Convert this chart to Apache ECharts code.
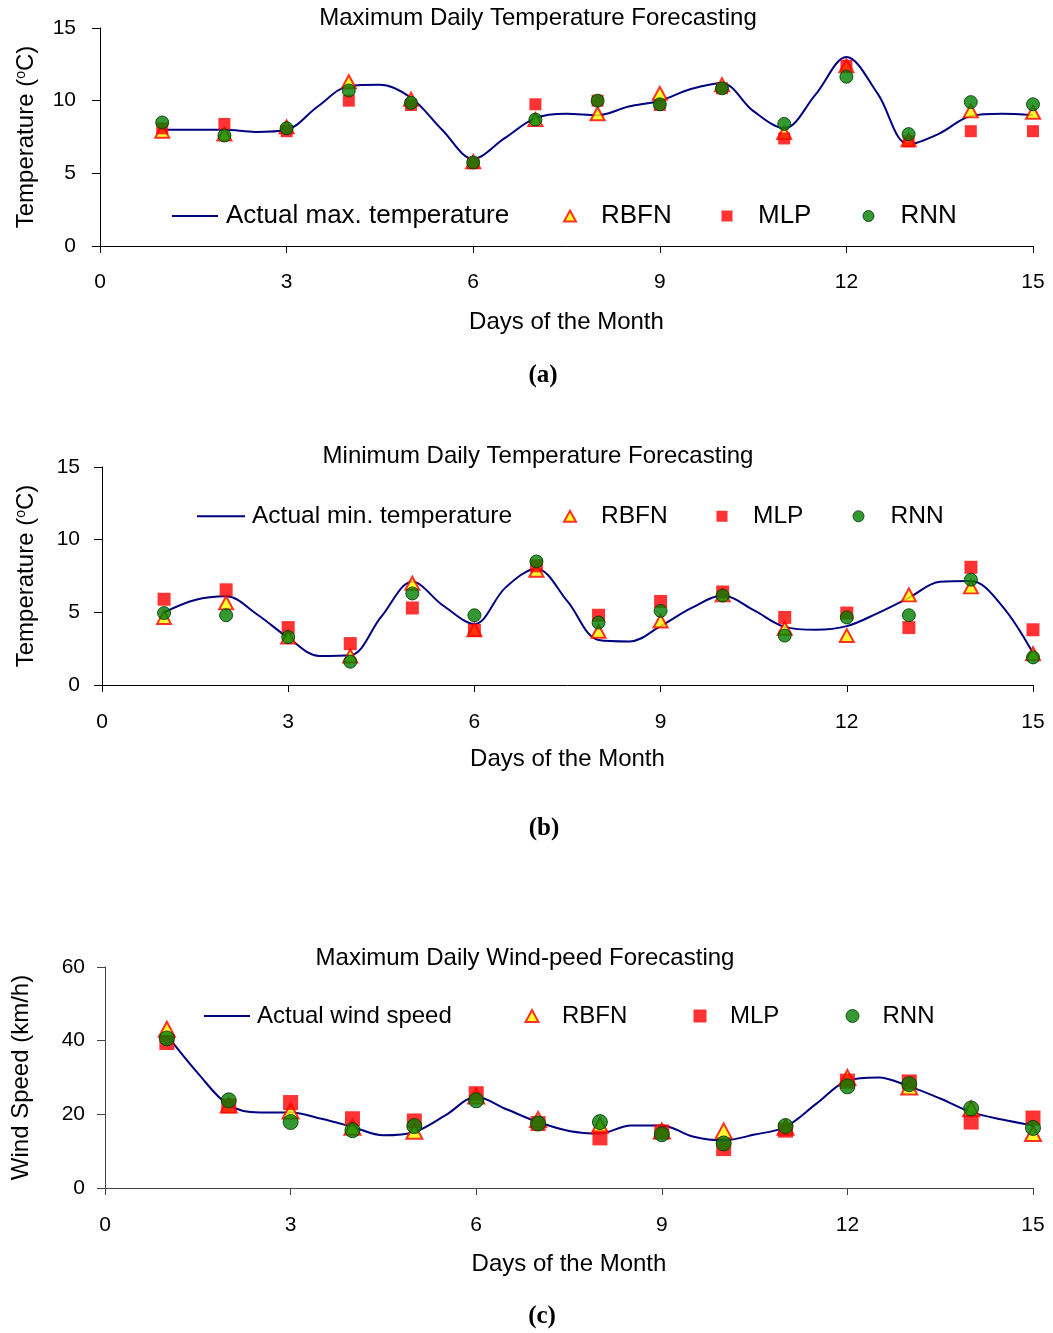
<!DOCTYPE html>
<html>
<head>
<meta charset="utf-8">
<script src="https://cdn.jsdelivr.net/npm/echarts@6/dist/echarts.min.js"></script>
<style>
  html, body { margin: 0; padding: 0; background: #ffffff; }
  #chart { width: 1053px; height: 1333px; }
</style>
</head>
<body>
<div id="chart"></div>
<script>
// Forecast days (markers) and half-day sampling of the observed series (line)
const days = [1, 2, 3, 4, 5, 6, 7, 8, 9, 10, 11, 12, 13, 14, 15];
const halfDays = [1, 1.5, 2, 2.5, 3, 3.5, 4, 4.5, 5, 5.5, 6, 6.5, 7, 7.5, 8, 8.5,
                  9, 9.5, 10, 10.5, 11, 11.5, 12, 12.5, 13, 13.5, 14, 14.5, 15];
const xTicks = [0, 3, 6, 9, 12, 15];

// (a) maximum daily temperature, °C
const actualMax = [8.0, 8.0, 8.0, 7.85, 8.0, 9.6, 11.0, 11.1, 10.2, 8.0, 6.0, 7.4, 8.8, 9.1, 9.0,
                   9.6, 10.0, 10.8, 11.2, 9.3, 8.1, 10.4, 13.0, 10.5, 7.0, 7.75, 8.95, 9.1, 9.0];
const rbfnMax = [7.9, 7.7, 8.2, 11.3, 10.1, 5.8, 8.7, 9.1, 10.5, 11.1, 7.8, 12.4, 7.3, 9.3, 9.2];
const mlpMax  = [8.1, 8.4, 7.9, 10.0, 9.7, 5.7, 9.75, 10.0, 9.7, 10.85, 7.4, 12.4, 7.2, 7.9, 7.9];
const rnnMax  = [8.5, 7.6, 8.1, 10.7, 9.85, 5.75, 8.7, 10.0, 9.75, 10.85, 8.4, 11.65, 7.7, 9.9, 9.75];

// (b) minimum daily temperature, °C
const actualMin = [5.0, 5.85, 6.1, 4.85, 3.25, 2.0, 2.05, 4.7, 7.1, 5.45, 4.2, 6.7, 8.0, 5.75, 3.1,
                   3.0, 4.05, 5.3, 6.15, 5.15, 4.0, 3.8, 4.05, 4.95, 6.0, 7.1, 7.15, 5.45, 2.2];
const rbfnMin = [4.65, 5.65, 3.3, 2.0, 7.0, 3.8, 7.9, 3.7, 4.4, 6.2, 3.9, 3.4, 6.2, 6.75, 2.15];
const mlpMin  = [5.9, 6.55, 3.95, 2.85, 5.3, 3.75, 8.2, 4.8, 5.75, 6.4, 4.65, 4.95, 3.95, 8.1, 3.8];
const rnnMin  = [4.95, 4.8, 3.3, 1.6, 6.3, 4.8, 8.5, 4.3, 5.1, 6.15, 3.4, 4.65, 4.8, 7.25, 1.9];

// (c) maximum daily wind speed, km/h
const actualWind = [41.5, 31.2, 22.5, 20.5, 20.5, 18.8, 16.6, 14.3, 15.2, 19.7, 24.7, 21.3, 17.9, 15.5, 14.8,
                    17.0, 17.0, 14.0, 12.95, 14.5, 16.6, 22.9, 29.1, 30.0, 27.6, 24.3, 20.6, 18.6, 17.0];
const rbfnWind = [43.1, 22.5, 20.9, 16.5, 15.4, 25.0, 18.6, 17.0, 15.5, 15.5, 16.5, 30.0, 27.4, 21.5, 14.8];
const mlpWind  = [39.5, 22.3, 23.2, 18.8, 18.2, 25.6, 17.5, 13.6, 15.2, 10.7, 15.7, 29.0, 28.8, 17.9, 19.0];
const rnnWind  = [40.6, 23.8, 17.9, 15.7, 16.8, 23.8, 17.5, 17.9, 14.6, 12.1, 16.8, 27.6, 28.2, 21.6, 16.3];

const SANS = '"Liberation Sans", Arial, Helvetica, sans-serif';
const SERIF = '"Liberation Serif", "Times New Roman", serif';

const LINE_COLOR = '#000080';
const TRI_STYLE = { color: '#ffff00', borderColor: '#ff0000', borderWidth: 2 };
const SQ_STYLE = { color: '#ff0000', borderColor: '#ff0000', borderWidth: 0 };
const CIRC_STYLE = { color: '#008000', borderColor: '#003300', borderWidth: 1 };

function pairs(xs, ys) { return xs.map((x, i) => [x, ys[i]]); }

const panels = [
  {
    title: 'Maximum Daily Temperature Forecasting', titleX: 538, titleTop: 6,
    tag: '(a)', tagX: 543, tagTop: 363,
    grid: { left: 100, top: 28, width: 933, height: 218 },
    yMax: 15, yInterval: 5, yName: 'Temperature ({sup|o}C)', yNameGap: 62, yLabelMargin: 24,
    xNameGap: 64, xLabelMargin: 26, axisColor: '#000',
    actualName: 'Actual max. temperature', actual: actualMax, rbfn: rbfnMax, mlp: mlpMax, rnn: rnnMax,
    legendY: 216, legendFont: 26,
    lineKey: [172, 46, 226], triKey: [569, 600], sqKey: [727, 758], circKey: [868, 900],
    sizes: { tri: [14, 13], sq: 12, circ: 13, keyTri: [12, 11], keySq: 11, keyCirc: 11 }
  },
  {
    title: 'Minimum Daily Temperature Forecasting', titleX: 538, titleTop: 444,
    tag: '(b)', tagX: 544, tagTop: 816,
    grid: { left: 102, top: 467, width: 931, height: 218 },
    yMax: 15, yInterval: 5, yName: 'Temperature ({sup|o}C)', yNameGap: 64, yLabelMargin: 22,
    xNameGap: 62, xLabelMargin: 27, axisColor: '#000',
    actualName: 'Actual min. temperature', actual: actualMin, rbfn: rbfnMin, mlp: mlpMin, rnn: rnnMin,
    legendY: 516, legendFont: 24.5,
    lineKey: [197, 48, 252], triKey: [569, 600], sqKey: [722, 753], circKey: [858, 890],
    sizes: { tri: [14, 13], sq: 13, circ: 13, keyTri: [12, 11], keySq: 11, keyCirc: 11 }
  },
  {
    title: 'Maximum Daily Wind-peed Forecasting', titleX: 525, titleTop: 946,
    tag: '(c)', tagX: 542, tagTop: 1304,
    grid: { left: 105, top: 967, width: 928, height: 221 },
    yMax: 60, yInterval: 20, yName: 'Wind Speed (km/h)', yNameGap: 72, yLabelMargin: 20,
    xNameGap: 64, xLabelMargin: 27, axisColor: '#444',
    actualName: 'Actual wind speed', actual: actualWind, rbfn: rbfnWind, mlp: mlpWind, rnn: rnnWind,
    legendY: 1016, legendFont: 24,
    lineKey: [204, 46, 257], triKey: [531, 561], sqKey: [700, 730], circKey: [852, 882],
    sizes: { tri: [16, 15], sq: 15, circ: 15, keyTri: [13, 12], keySq: 13, keyCirc: 13 }
  }
];

const option = {
  animation: false,
  backgroundColor: '#ffffff',
  title: [], grid: [], xAxis: [], yAxis: [], legend: [], series: []
};

function keyLegend(p, name, icon, centerX, textX, w, h, itemStyle) {
  return {
    left: centerX - w / 2, top: p.legendY - p.legendFont / 2,
    padding: 0, itemGap: 0, itemWidth: w, itemHeight: h,
    selectedMode: false,
    textStyle: { fontSize: p.legendFont, fontFamily: SANS, color: '#000',
                 padding: [0, 0, 0, textX - (centerX + w / 2 + 5)] },
    data: [{ name: name, icon: icon, itemStyle: itemStyle }]
  };
}

panels.forEach((p, i) => {
  option.title.push({
    text: p.title, left: p.titleX, top: p.titleTop, textAlign: 'center', padding: 0,
    textStyle: { fontSize: 24, fontWeight: 'normal', fontFamily: SANS, color: '#000' }
  });
  option.title.push({
    text: p.tag, left: p.tagX, top: p.tagTop, textAlign: 'center', padding: 0,
    textStyle: { fontSize: 25, fontWeight: 'bold', fontFamily: SERIF, color: '#000' }
  });

  option.grid.push(Object.assign({ containLabel: false }, p.grid));

  option.xAxis.push({
    gridIndex: i, type: 'value', min: 0, max: 15, interval: 3,
    axisLine: { show: true, onZero: false, lineStyle: { color: p.axisColor, width: 1 } },
    axisTick: { show: true, length: 7, lineStyle: { color: p.axisColor } },
    axisLabel: { fontSize: 21, fontFamily: SANS, color: '#000', margin: p.xLabelMargin,
                 formatter: v => (xTicks.indexOf(v) >= 0 ? String(v) : '') },
    splitLine: { show: false },
    name: 'Days of the Month', nameLocation: 'middle', nameGap: p.xNameGap,
    nameTextStyle: { fontSize: 24, fontFamily: SANS, color: '#000' }
  });

  option.yAxis.push({
    gridIndex: i, type: 'value', min: 0, max: p.yMax, interval: p.yInterval,
    axisLine: { show: true, onZero: false, lineStyle: { color: p.axisColor, width: 1 } },
    axisTick: { show: true, length: 8, lineStyle: { color: p.axisColor } },
    axisLabel: { fontSize: 21, fontFamily: SANS, color: '#000', margin: p.yLabelMargin },
    splitLine: { show: false },
    name: p.yName, nameLocation: 'middle', nameGap: p.yNameGap,
    nameTextStyle: {
      fontSize: 24, fontFamily: SANS, color: '#000',
      rich: { sup: { fontSize: 14, fontFamily: SANS, color: '#000', verticalAlign: 'top', lineHeight: 14 } }
    }
  });

  // observed series
  option.series.push({
    name: p.actualName, type: 'line', xAxisIndex: i, yAxisIndex: i,
    data: pairs(halfDays, p.actual), smooth: 0.35, symbol: 'none',
    lineStyle: { color: LINE_COLOR, width: 2 }, itemStyle: { color: LINE_COLOR },
    emphasis: { disabled: true }, z: 1
  });
  // model forecasts
  option.series.push({
    name: 'RBFN', type: 'scatter', xAxisIndex: i, yAxisIndex: i,
    data: pairs(days, p.rbfn), symbol: 'triangle', symbolSize: p.sizes.tri,
    itemStyle: TRI_STYLE, emphasis: { disabled: true }, z: 2
  });
  option.series.push({
    name: 'MLP', type: 'scatter', xAxisIndex: i, yAxisIndex: i,
    data: pairs(days, p.mlp), symbol: 'rect', symbolSize: p.sizes.sq,
    itemStyle: SQ_STYLE, emphasis: { disabled: true }, z: 3
  });
  option.series.push({
    name: 'RNN', type: 'scatter', xAxisIndex: i, yAxisIndex: i,
    data: pairs(days, p.rnn), symbol: 'circle', symbolSize: p.sizes.circ,
    itemStyle: CIRC_STYLE, emphasis: { disabled: true }, z: 4
  });

  // legend keys, one per entry so each sits where the panel places it
  option.legend.push({
    left: p.lineKey[0], top: p.legendY - p.legendFont / 2,
    padding: 0, itemGap: 0, itemWidth: p.lineKey[1], itemHeight: 2,
    selectedMode: false,
    textStyle: { fontSize: p.legendFont, fontFamily: SANS, color: '#000',
                 padding: [0, 0, 0, p.lineKey[2] - (p.lineKey[0] + p.lineKey[1] + 5)] },
    data: [{ name: p.actualName, icon: 'rect', itemStyle: { color: LINE_COLOR, borderWidth: 0 } }]
  });
  option.legend.push(keyLegend(p, 'RBFN', 'triangle', p.triKey[0], p.triKey[1],
                               p.sizes.keyTri[0], p.sizes.keyTri[1], TRI_STYLE));
  option.legend.push(keyLegend(p, 'MLP', 'rect', p.sqKey[0], p.sqKey[1],
                               p.sizes.keySq, p.sizes.keySq, SQ_STYLE));
  option.legend.push(keyLegend(p, 'RNN', 'circle', p.circKey[0], p.circKey[1],
                               p.sizes.keyCirc, p.sizes.keyCirc, CIRC_STYLE));
});

const chart = echarts.init(document.getElementById('chart'), null, { renderer: 'canvas' });
chart.setOption(option);
</script>
</body>
</html>
